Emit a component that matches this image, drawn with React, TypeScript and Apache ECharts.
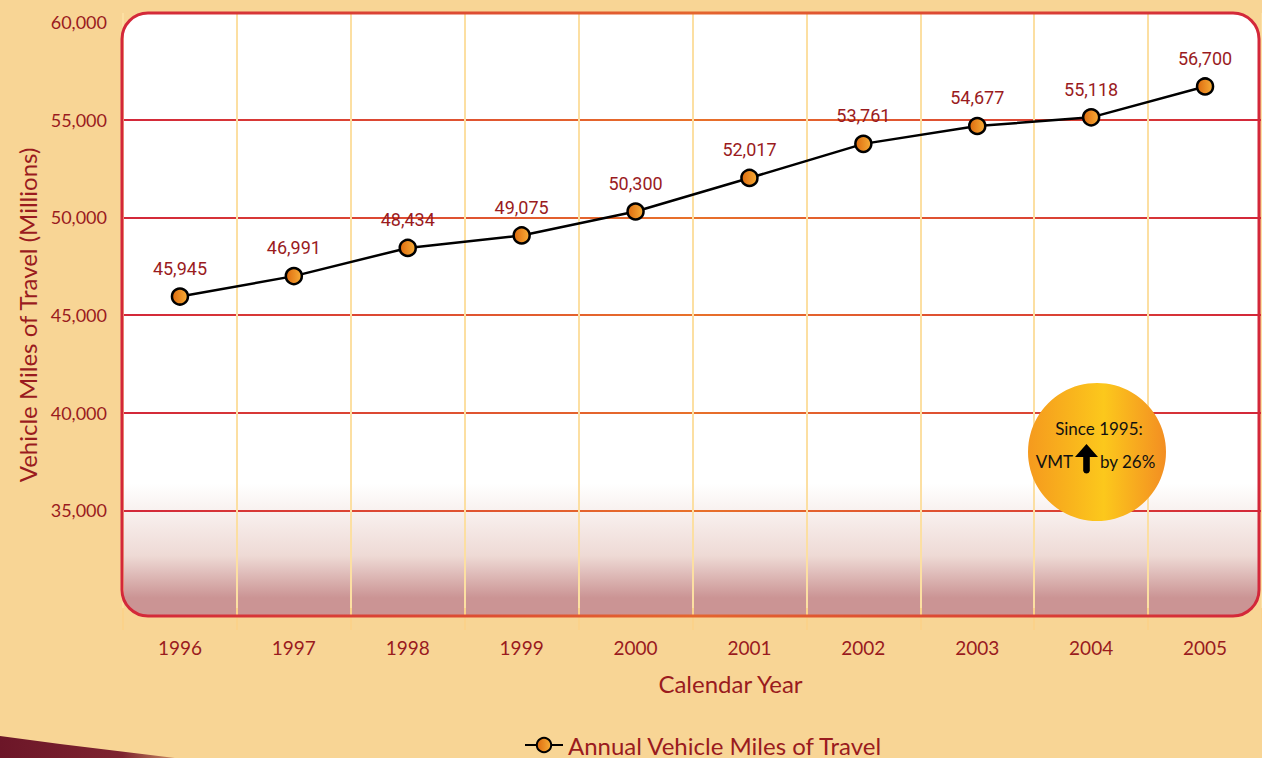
import React, { useEffect, useRef } from "react";
import * as echarts from "echarts";

const years = ["1996", "1997", "1998", "1999", "2000", "2001", "2002", "2003", "2004", "2005"];
const vmt = [45945, 46991, 48434, 49075, 50300, 52017, 53761, 54677, 55118, 56700];
const seriesName = "Annual Vehicle Miles of Travel";
const yTitle = "Vehicle Miles of Travel (Millions)";
const xTitle = "Calendar Year";
const badgeLine1 = "Since 1995:";
const badgeLeft = "VMT";
const badgeRight = "by 26%";

const DARK_RED = "#9A1B1E";
const W = 1262;
const H = 758;

function fmt(v: number) {
  return String(v).replace(/\B(?=(\d{3})+(?!\d))/g, ",");
}

export default function App() {
  const ref = useRef<HTMLDivElement>(null);
  useEffect(() => {
    document.body.style.margin = "0";
    const chart = echarts.init(ref.current!, null, { renderer: "svg" });
    const hGrad = {
      type: "linear", x: 123, y: 0, x2: 1262, y2: 0, global: true,
      colorStops: [
        { offset: 0, color: "#D3273A" },
        { offset: 0.5, color: "#E8712A" },
        { offset: 1, color: "#D3273A" },
      ],
    };
    const gridLineColors = ["rgba(0,0,0,0)", hGrad, hGrad, hGrad, hGrad, hGrad, "rgba(0,0,0,0)"];
    chart.setOption({
      animation: false,
      backgroundColor: "#F8D595",
      grid: { left: 123, top: 22, width: 1147, height: 586 },
      graphic: [
        {
          type: "polygon", z: -20, silent: true,
          shape: { points: [[0, 736], [60, 744], [175, 758], [0, 758]] },
          style: {
            fill: {
              type: "linear", x: 0, y: 0, x2: 1, y2: 0,
              colorStops: [
                { offset: 0, color: "#6C1628" },
                { offset: 0.7, color: "#7E2430" },
                { offset: 1, color: "#C88A60" },
              ],
            },
          },
        },
        {
          type: "rect", z: -10, silent: true,
          shape: { x: 122, y: 13, width: 1137, height: 603, r: 26 },
          style: {
            fill: {
              type: "linear", x: 0, y: 0, x2: 0, y2: 1,
              colorStops: [
                { offset: 0, color: "#FFFFFF" },
                { offset: 0.78, color: "#FFFFFF" },
                { offset: 0.9, color: "#EEDAD5" },
                { offset: 0.97, color: "#CB9494" },
                { offset: 1, color: "#CB9494" },
              ],
            },
            stroke: "none",
          },
        },
        {
          type: "rect", z: 1, silent: true,
          shape: { x: 122, y: 13, width: 1137, height: 603, r: 26 },
          style: {
            fill: "none",
            lineWidth: 3,
            stroke: {
              type: "linear", x: 122, y: 0, x2: 1260, y2: 0, global: true,
              colorStops: [
                { offset: 0, color: "#D3273A" },
                { offset: 0.5, color: "#E4652E" },
                { offset: 1, color: "#D3273A" },
              ],
            },
          },
        },
        {
          type: "circle", z: 20, silent: true,
          shape: { cx: 1097, cy: 452, r: 69 },
          style: {
            fill: {
              type: "linear", x: 0, y: 0, x2: 1, y2: 0,
              colorStops: [
                { offset: 0, color: "#F59A1E" },
                { offset: 0.55, color: "#FCC81C" },
                { offset: 1, color: "#F38E22" },
              ],
            },
          },
        },
        {
          type: "text", z: 21, silent: true,
          style: {
            x: 1099, y: 428, text: badgeLine1, fill: "#111",
            font: "17px Lato", textAlign: "center", textVerticalAlign: "middle",
          },
        },
        {
          type: "text", z: 21, silent: true,
          style: {
            x: 1073, y: 461, text: badgeLeft, fill: "#111",
            font: "17px Lato", textAlign: "right", textVerticalAlign: "middle",
          },
        },
        {
          type: "text", z: 21, silent: true,
          style: {
            x: 1100, y: 461, text: badgeRight, fill: "#111",
            font: "17px Lato", textAlign: "left", textVerticalAlign: "middle",
          },
        },
        {
          type: "polygon", z: 21, silent: true,
          shape: {
            points: [
              [1086.5, 444], [1098, 457], [1089.8, 457], [1089.8, 471],
              [1088.5, 473], [1086.5, 473.6], [1084.5, 473], [1083.2, 471],
              [1083.2, 457], [1075, 457],
            ],
          },
          style: { fill: "#000" },
        },
      ],
      legend: {
        left: 524, top: 733, padding: 0,
        itemWidth: 38, itemHeight: 18, itemGap: 10,
        textStyle: { color: DARK_RED, fontSize: 24, lineHeight: 22, fontFamily: "Lato" },
        data: [seriesName],
      },
      xAxis: [
        {
          type: "category", data: years, boundaryGap: true,
          axisLine: { show: false },
          axisTick: { show: true, length: 22, inside: false, lineStyle: { color: "#FBD28A", width: 2 } },
          axisLabel: { color: DARK_RED, fontSize: 19, fontFamily: "Lato", margin: 30 },
          splitLine: { show: true, lineStyle: { color: "#FCDFA2", width: 2 } },
          name: xTitle, nameLocation: "middle", nameGap: 63,
          nameTextStyle: { color: DARK_RED, fontSize: 24, fontFamily: "Lato", padding: [0, 0, 0, 76] },
        },
        {
          type: "category", data: years, boundaryGap: true, position: "top",
          axisLine: { show: false },
          axisTick: { show: true, length: 9, lineStyle: { color: "#FCDFA2", width: 2 } },
          axisLabel: { show: false },
        },
      ],
      yAxis: {
        type: "value", min: 30000, max: 60000, interval: 5000,
        axisLine: { show: false }, axisTick: { show: false },
        axisLabel: {
          color: DARK_RED, fontSize: 18, fontFamily: "Lato", margin: 16,
          formatter: (v: number) => (v === 30000 ? "" : fmt(v)),
        },
        splitLine: { show: true, lineStyle: { color: gridLineColors, width: 2 } },
        name: yTitle, nameLocation: "middle", nameGap: 84,
        nameTextStyle: { color: DARK_RED, fontSize: 24, fontFamily: "Lato" },
      },
      series: [
        {
          name: seriesName, type: "line", data: vmt, z: 5,
          symbol: "circle", symbolSize: 16,
          lineStyle: { color: "#000", width: 2.5 },
          itemStyle: {
            color: {
              type: "linear", x: 0, y: 0, x2: 1, y2: 0,
              colorStops: [
                { offset: 0, color: "#DD6A0E" },
                { offset: 1, color: "#F8AE38" },
              ],
            },
            borderColor: "#000", borderWidth: 2.5,
          },
          label: {
            show: true, position: "top", distance: 10,
            color: DARK_RED, fontSize: 18, fontFamily: "Roboto",
            formatter: (p: any) => fmt(p.value),
          },
        },
      ],
    });
    return () => chart.dispose();
  }, []);
  return <div ref={ref} style={{ width: W, height: H }} />;
}
